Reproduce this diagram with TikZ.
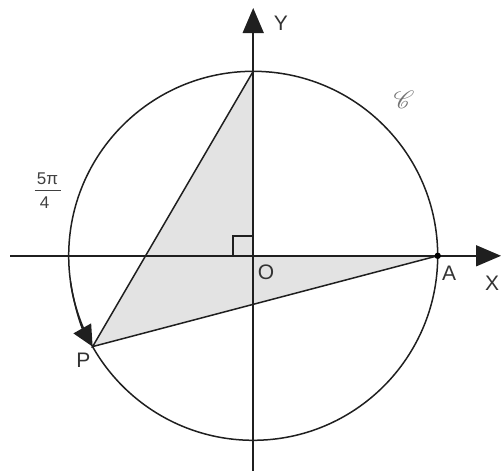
\documentclass[tikz,border=0pt]{standalone}
\usepackage{fontspec}
\setmainfont{Liberation Sans}
\usepackage{mathrsfs}
\usetikzlibrary{arrows.meta}
\begin{document}
\begin{tikzpicture}[x=1pt,y=-1pt,
  line/.style={line width=1.5pt, draw=black!88},
  lbl/.style={font=\fontsize{21}{21}\selectfont, text=black!80, inner sep=0pt},
  frac/.style={font=\fontsize{17}{17}\selectfont, text=black!75, inner sep=0pt},
  bigtip/.style={-{Triangle[length=25pt,width=21pt]}}]
\useasboundingbox (0,0) rectangle (501,471);
\coordinate (C) at (253.2,255.8);
\def\R{184.5}
\coordinate (O) at (253.2,255.8);
\coordinate (T) at (253.2,71.3);
\coordinate (A) at (437.7,255.8);
\coordinate (P) at (92.6,346.6);
\coordinate (xl) at (10,255.8);
\coordinate (xr) at (501,255.8);
\coordinate (yb) at (253.2,471);
\coordinate (yt) at (253.2,8);
% shaded region
\fill[black!11] (T) -- (P) -- (A) -- (O) -- cycle;
% axes
\draw[line, bigtip] (xl) -- (xr);
\draw[line, bigtip] (yb) -- (yt);
% circle
\draw[line] (C) circle[radius=\R];
% arc arrow towards P
\draw[line, -{Triangle[length=21pt,width=20pt]}] (C) ++(172:\R) arc[start angle=172, end angle=150.5, radius=\R];
% triangle edges
\draw[line] (T) -- (P) -- (A);
% right angle mark
\draw[line] (233.2,255.8) -- (233.2,235.8) -- (253.2,235.8);
% point A
\fill[black] (A) circle[radius=3.2pt];
% labels
\node[lbl] (lY) at (281,23.3) {Y};
\node[lbl] (lX) at (492,283) {X};
\node[lbl] (lO) at (266,272) {O};
\node[lbl] (lA) at (449,273) {A};
\node[lbl] (lP) at (83.3,360) {P};
\node[frac] (fn) at (47.5,178.5) {5π};
\node[frac] (fd) at (44.5,202.5) {4};
\draw[line width=1.2pt, draw=black!75] (34.5,190.5) -- (60.5,190.5);
\node[inner sep=0pt, text=black!55, font=\fontsize{30}{30}\selectfont] (cC) at (404,100) {$\mathscr{C}$};
\end{tikzpicture}
\end{document}
